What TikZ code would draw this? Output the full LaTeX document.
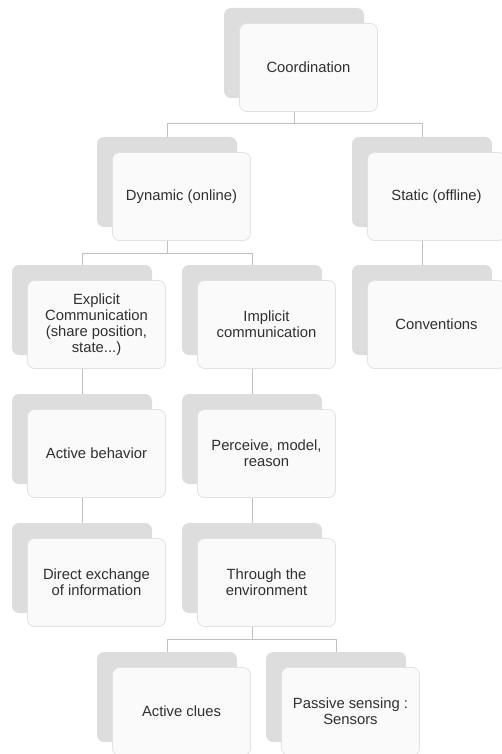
\documentclass[tikz,border=0pt]{standalone}
\usepackage{fontspec}
\setmainfont{Liberation Sans}
\usepackage{color}
\usetikzlibrary{backgrounds,positioning}
\pgfdeclarelayer{edgelayer}
\pgfdeclarelayer{nodelayer}
\pgfsetlayers{edgelayer,nodelayer,main}
\definecolor{shadegray}{RGB}{221,221,221}
\definecolor{rimgray}{RGB}{226,226,226}
\definecolor{linegray}{RGB}{192,192,192}
\definecolor{textgray}{RGB}{48,48,48}
\tikzset{font=\fontsize{14.8}{16}\selectfont}
\tikzstyle{none}=[inner sep=0pt]
\tikzstyle{back}=[rectangle,rounded corners=7pt,fill=shadegray,minimum width=140pt,minimum height=90pt,inner sep=0pt]
\tikzstyle{front}=[rectangle,rounded corners=7pt,fill=white!98!black,draw=rimgray,line width=0.8pt,minimum width=138pt,minimum height=88pt,inner sep=0pt,text=textgray,align=center]
\tikzstyle{link}=[-,draw=linegray,line width=1pt]

\begin{document}
\begin{tikzpicture}[x=1pt,y=-1pt]
	\useasboundingbox (0,0) rectangle (501,754);
	\begin{pgfonlayer}{nodelayer}
		\node [style=back] (CoordB) at (294,53) {};
		\node [style=front] (Coord) at (308.5,67.5) {Coordination};
		\node [style=back] (DynB) at (167,182) {};
		\node [style=front] (Dyn) at (181.5,196.5) {Dynamic (online)};
		\node [style=back] (StatB) at (422,182) {};
		\node [style=front] (Stat) at (436.5,196.5) {Static (offline)};
		\node [style=back] (ExplB) at (82,310) {};
		\node [style=front] (Expl) at (96.5,324.5) {Explicit\\Communication\\(share position,\\state...)};
		\node [style=back] (ImplB) at (252,310) {};
		\node [style=front] (Impl) at (266.5,324.5) {Implicit\\communication};
		\node [style=back] (ConvB) at (422,310) {};
		\node [style=front] (Conv) at (436.5,324.5) {Conventions};
		\node [style=back] (ActB) at (82,439) {};
		\node [style=front] (Act) at (96.5,453.5) {Active behavior};
		\node [style=back] (PercB) at (252,439) {};
		\node [style=front] (Perc) at (266.5,453.5) {Perceive, model,\\reason};
		\node [style=back] (DirB) at (82,568) {};
		\node [style=front] (Dir) at (96.5,582.5) {Direct exchange\\of information};
		\node [style=back] (ThrB) at (252,568) {};
		\node [style=front] (Thr) at (266.5,582.5) {Through the\\environment};
		\node [style=back] (CluesB) at (167,697) {};
		\node [style=front] (Clues) at (181.5,711.5) {Active clues};
		\node [style=back] (PassB) at (336,697) {};
		\node [style=front] (Pass) at (350.5,711.5) {Passive sensing :\\Sensors};
	\end{pgfonlayer}
	\begin{pgfonlayer}{edgelayer}
		\draw [style=link] (CoordB.center) -- ++(0,71) -| (DynB.north);
		\draw [style=link] (CoordB.center) -- ++(0,71) -| (StatB.north);
		\draw [style=link] (DynB.center) -- ++(0,71) -| (ExplB.north);
		\draw [style=link] (DynB.center) -- ++(0,71) -| (ImplB.north);
		\draw [style=link] (StatB.center) to (ConvB.north);
		\draw [style=link] (ExplB.center) to (ActB.north);
		\draw [style=link] (ActB.center) to (DirB.north);
		\draw [style=link] (ImplB.center) to (PercB.north);
		\draw [style=link] (PercB.center) to (ThrB.north);
		\draw [style=link] (ThrB.center) -- ++(0,71) -| (CluesB.north);
		\draw [style=link] (ThrB.center) -- ++(0,71) -| (PassB.north);
	\end{pgfonlayer}
\end{tikzpicture}
\end{document}
